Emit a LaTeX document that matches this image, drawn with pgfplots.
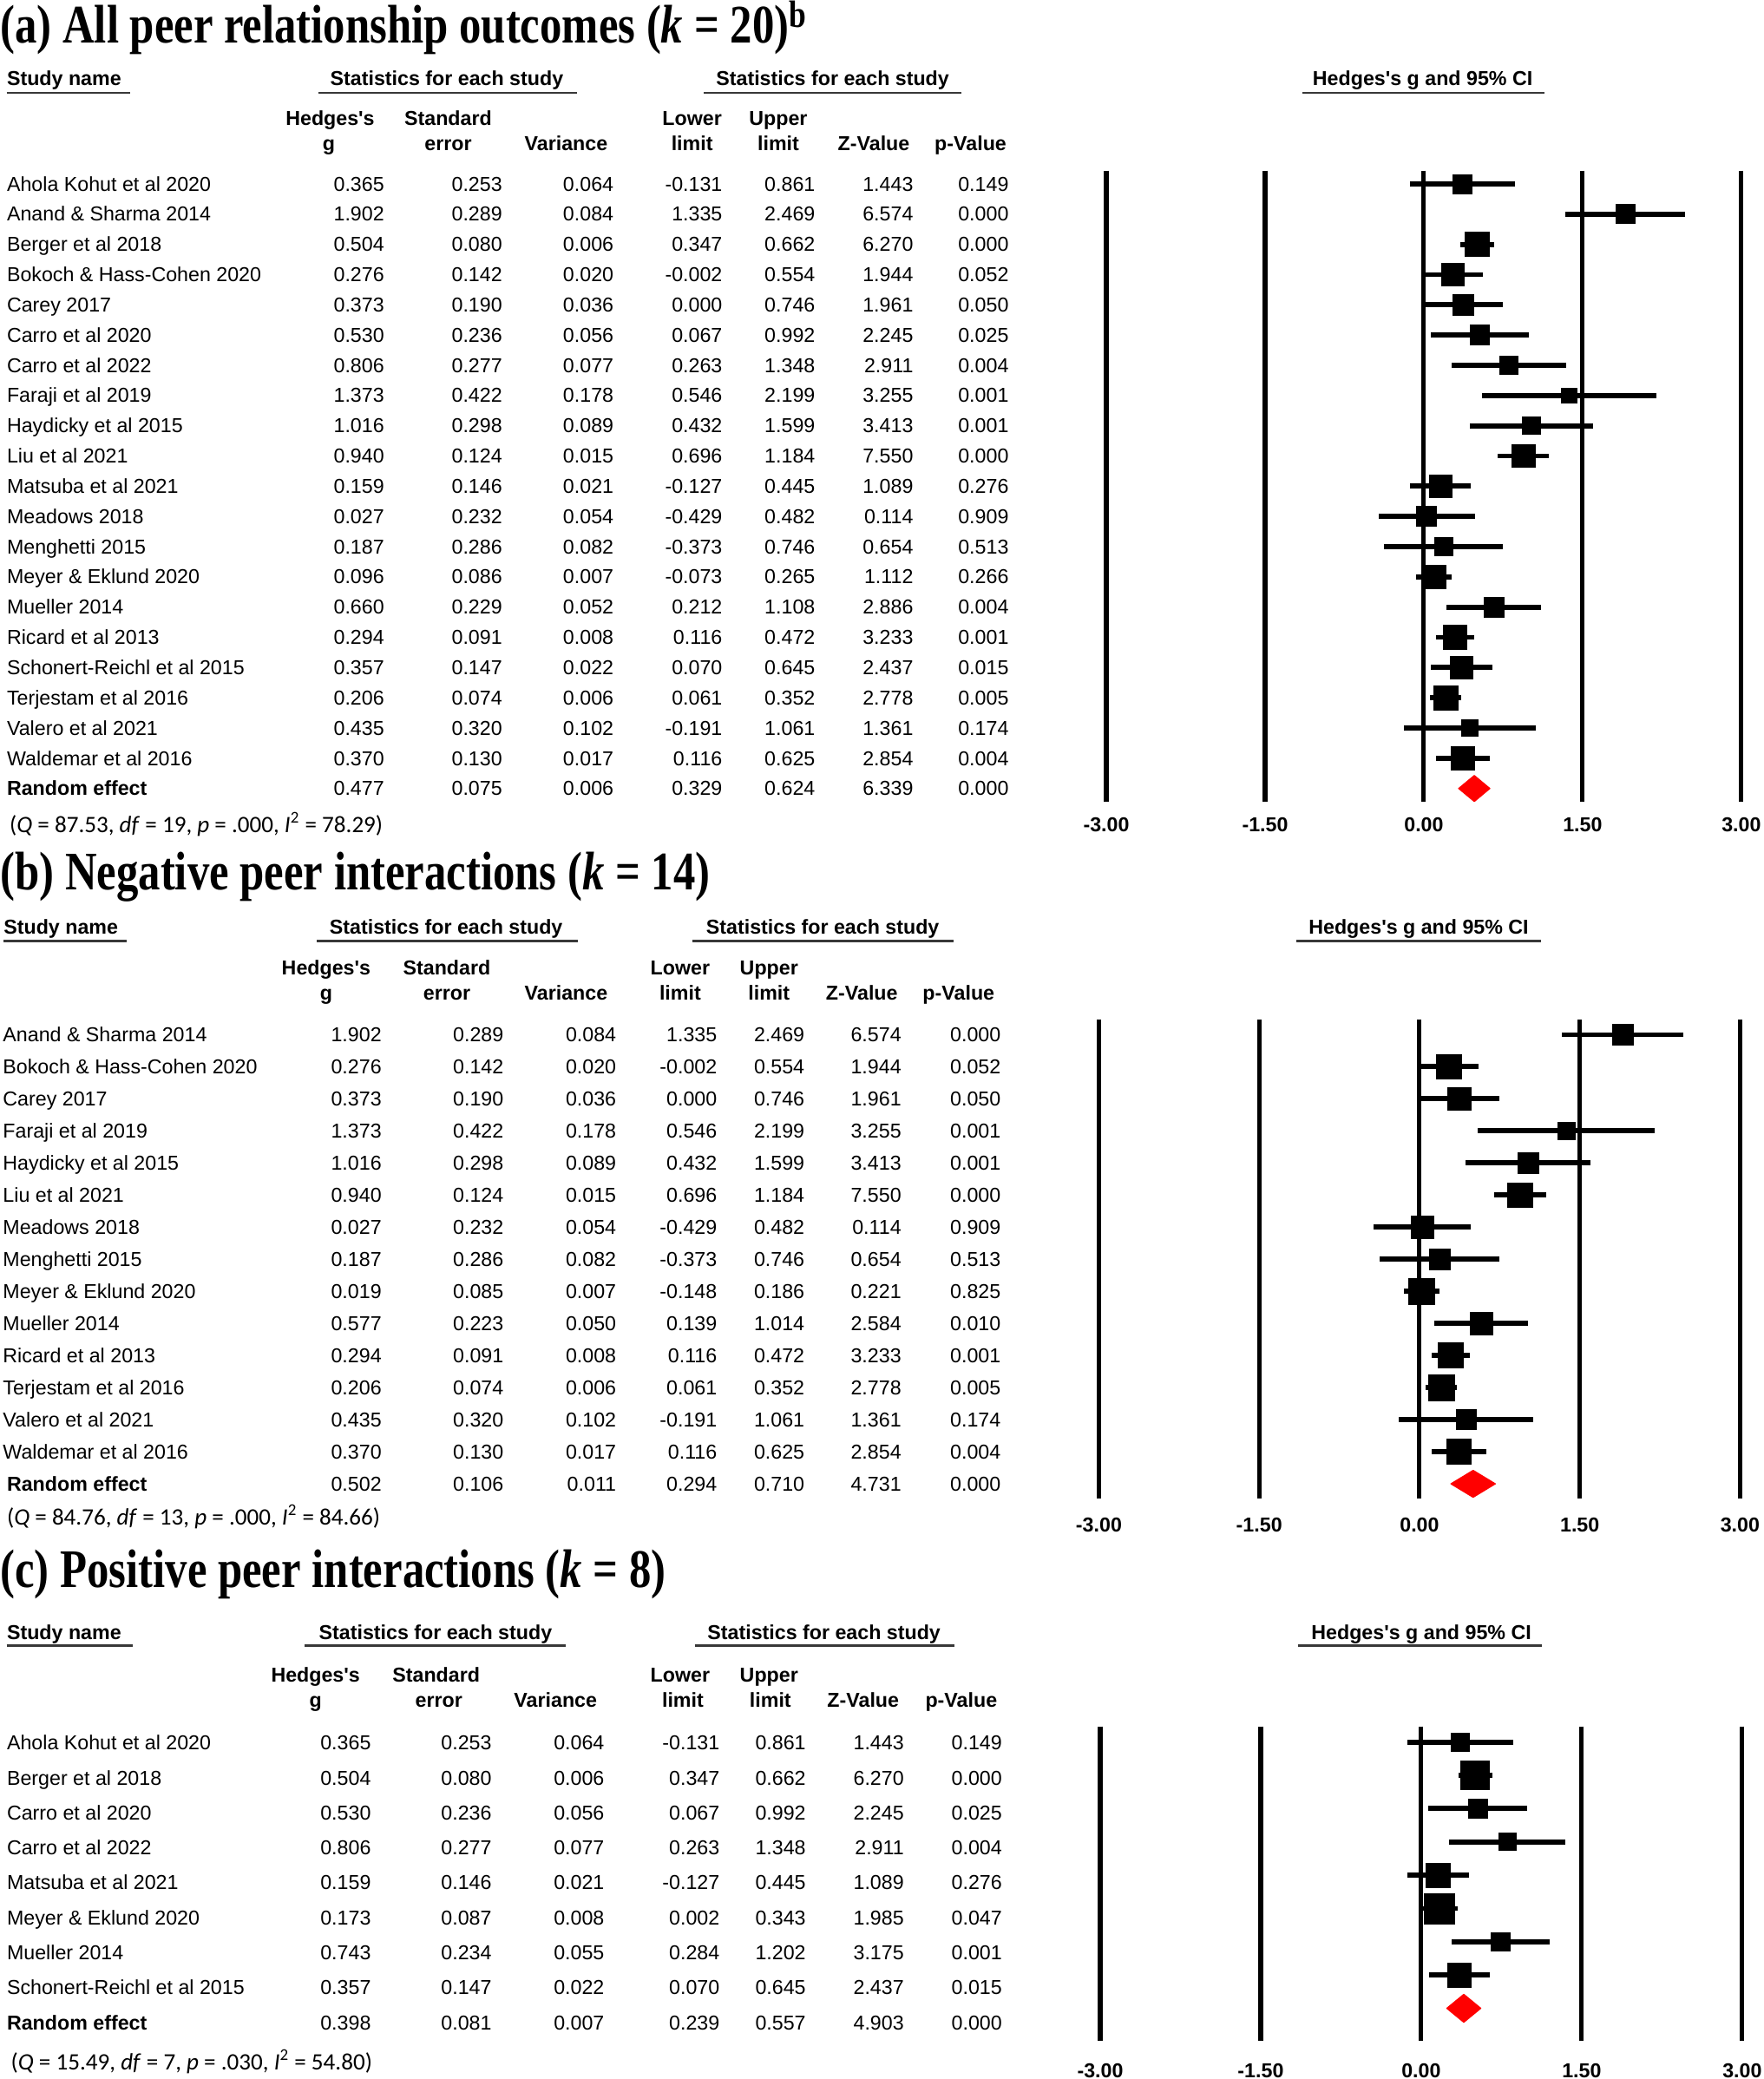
\documentclass[border=0pt]{standalone}
\usepackage{pgfplots}
\pgfplotsset{compat=1.18}
\usepackage{pgfplotstable}
\usepackage{fontspec}
\setmainfont{Liberation Sans}[Ligatures=TeXOff]
\newfontfamily\titlefont{Liberation Serif}
\newfontfamily\notefont{Carlito}
\newcommand{\tf}{\fontsize{11.4pt}{13pt}\selectfont}
\newcommand{\ttl}{\fontsize{30.75pt}{34pt}\selectfont\titlefont\bfseries}
\newcommand{\nf}{\fontsize{13.3pt}{15pt}\selectfont\notefont}
\newcommand{\panelhead}[1]{\scalebox{0.81}[1]{\ttl #1}}

% row, study, g, se, var, lower, upper, z, p, square side (px)
\pgfplotstableread{
row name g se var lo hi z p sz
0 {Ahola Kohut et al 2020} 0.365 0.253 0.064 -0.131 0.861 1.443 0.149 14.4
1 {Anand \& Sharma 2014} 1.902 0.289 0.084 1.335 2.469 6.574 0.000 14.4
2 {Berger et al 2018} 0.504 0.080 0.006 0.347 0.662 6.270 0.000 18.3
3 {Bokoch \& Hass-Cohen 2020} 0.276 0.142 0.020 -0.002 0.554 1.944 0.052 17.2
4 {Carey 2017} 0.373 0.190 0.036 0.000 0.746 1.961 0.050 15.8
5 {Carro et al 2020} 0.530 0.236 0.056 0.067 0.992 2.245 0.025 14.8
6 {Carro et al 2022} 0.806 0.277 0.077 0.263 1.348 2.911 0.004 13.8
7 {Faraji et al 2019} 1.373 0.422 0.178 0.546 2.199 3.255 0.001 11.2
8 {Haydicky et al 2015} 1.016 0.298 0.089 0.432 1.599 3.413 0.001 13.4
9 {Liu et al 2021} 0.940 0.124 0.015 0.696 1.184 7.550 0.000 17.5
10 {Matsuba et al 2021} 0.159 0.146 0.021 -0.127 0.445 1.089 0.276 17.0
11 {Meadows 2018} 0.027 0.232 0.054 -0.429 0.482 0.114 0.909 14.9
12 {Menghetti 2015} 0.187 0.286 0.082 -0.373 0.746 0.654 0.513 13.6
13 {Meyer \& Eklund 2020} 0.096 0.086 0.007 -0.073 0.265 1.112 0.266 18.2
14 {Mueller 2014} 0.660 0.229 0.052 0.212 1.108 2.886 0.004 15.0
15 {Ricard et al 2013} 0.294 0.091 0.008 0.116 0.472 3.233 0.001 18.1
16 {Schonert-Reichl et al 2015} 0.357 0.147 0.022 0.070 0.645 2.437 0.015 16.9
17 {Terjestam et al 2016} 0.206 0.074 0.006 0.061 0.352 2.778 0.005 18.3
18 {Valero et al 2021} 0.435 0.320 0.102 -0.191 1.061 1.361 0.174 12.9
19 {Waldemar et al 2016} 0.370 0.130 0.017 0.116 0.625 2.854 0.004 17.3
}\tblA

\pgfplotstableread{
row name g se var lo hi z p sz
0 {Anand \& Sharma 2014} 1.902 0.289 0.084 1.335 2.469 6.574 0.000 15.6
1 {Bokoch \& Hass-Cohen 2020} 0.276 0.142 0.020 -0.002 0.554 1.944 0.052 18.5
2 {Carey 2017} 0.373 0.190 0.036 0.000 0.746 1.961 0.050 17.6
3 {Faraji et al 2019} 1.373 0.422 0.178 0.546 2.199 3.255 0.001 13.1
4 {Haydicky et al 2015} 1.016 0.298 0.089 0.432 1.599 3.413 0.001 15.5
5 {Liu et al 2021} 0.940 0.124 0.015 0.696 1.184 7.550 0.000 18.8
6 {Meadows 2018} 0.027 0.232 0.054 -0.429 0.482 0.114 0.909 16.8
7 {Menghetti 2015} 0.187 0.286 0.082 -0.373 0.746 0.654 0.513 15.7
8 {Meyer \& Eklund 2020} 0.019 0.085 0.007 -0.148 0.186 0.221 0.825 19.3
9 {Mueller 2014} 0.577 0.223 0.050 0.139 1.014 2.584 0.010 17.0
10 {Ricard et al 2013} 0.294 0.091 0.008 0.116 0.472 3.233 0.001 19.2
11 {Terjestam et al 2016} 0.206 0.074 0.006 0.061 0.352 2.778 0.005 19.4
12 {Valero et al 2021} 0.435 0.320 0.102 -0.191 1.061 1.361 0.174 15.0
13 {Waldemar et al 2016} 0.370 0.130 0.017 0.116 0.625 2.854 0.004 18.7
}\tblB

\pgfplotstableread{
row name g se var lo hi z p sz
0 {Ahola Kohut et al 2020} 0.365 0.253 0.064 -0.131 0.861 1.443 0.149 14.0
1 {Berger et al 2018} 0.504 0.080 0.006 0.347 0.662 6.270 0.000 21.5
2 {Carro et al 2020} 0.530 0.236 0.056 0.067 0.992 2.245 0.025 14.2
3 {Carro et al 2022} 0.806 0.277 0.077 0.263 1.348 2.911 0.004 13.0
4 {Matsuba et al 2021} 0.159 0.146 0.021 -0.127 0.445 1.089 0.276 18.3
5 {Meyer \& Eklund 2020} 0.173 0.087 0.008 0.002 0.343 1.985 0.047 23.0
6 {Mueller 2014} 0.743 0.234 0.055 0.284 1.202 3.175 0.001 14.2
7 {Schonert-Reichl et al 2015} 0.357 0.147 0.022 0.070 0.645 2.437 0.015 18.0
}\tblC

\pgfplotsset{
  forest/.style={
    scale only axis, anchor=north west, clip=false,
    xmin=-3, xmax=3, y dir=reverse,
    axis line style={draw=none}, ytick=\empty,
    xtick={-3,-1.5,0,1.5,3}, xticklabels={-3.00,-1.50,0.00,1.50,3.00},
    major tick length=0pt,
    xmajorgrids, major grid style={black, line width=2.5pt},
    xticklabel style={font=\tf\bfseries, anchor=center},
  },
  ci/.style={only marks, mark=none,
    error bars/.cd, x dir=both, x explicit, error mark=none,
    error bar style={line width=2.9pt, black}},
  sq/.style={scatter, only marks, mark=square*,
    scatter/use mapped color={draw=none, fill=black},
    visualization depends on={0.375*\thisrow{sz} \as \ms},
    scatter/@pre marker code/.append style={/tikz/mark size=\ms pt}},
}

% study rows of a table: #1 table, #2 first row y, #3 row step, #4 name x, #5 column/right edge
\newcommand{\rows}[5]{%
  \pgfplotstablegetrowsof{#1}\pgfmathtruncatemacro{\nlast}{\pgfplotsretval-1}%
  \foreach \i in {0,...,\nlast}{%
    \pgfmathsetmacro{\yy}{#2+#3*\i+5.3}%
    \pgfplotstablegetelem{\i}{name}\of{#1}%
    \node[anchor=base west, inner sep=0pt] at (#4,\yy) {\pgfplotsretval};%
    \foreach \c/\xr in {#5}{%
      \pgfplotstablegetelem{\i}{\c}\of{#1}%
      \node[anchor=base east, inner sep=0pt] at (\xr,\yy) {\pgfplotsretval};%
    }%
  }}
\newcommand{\rerow}[3]{%
  \node[anchor=base west, inner sep=0pt, font=\tf\bfseries] at (#2,#1+5.3) {Random effect};
  \foreach \v/\xr in {#3}{\node[anchor=base east, inner sep=0pt] at (\xr,#1+5.3) {\v};}}
\newcommand{\hd}[3]{\node[anchor=base, inner sep=0pt, font=\tf\bfseries] at (#1,#2+5.3) {#3};}
\newcommand{\ul}[3]{\draw[line width=1.4pt, black!78] (#1,#3) -- (#2,#3);}

\begin{document}
\begin{tikzpicture}
\path[use as bounding box, fill=white] (0,0) rectangle (997.5pt,-1176pt);

% (a) forest plot
\begin{axis}[forest, at={(625.8pt,-96.5pt)}, width=359.2pt, height=357.2pt,
  ymin=-0.44, ymax=20.45, xticklabel style={yshift=-12.75pt}]
\addplot[ci] table[x=g, y=row, x error plus expr=\thisrow{hi}-\thisrow{g},
  x error minus expr=\thisrow{g}-\thisrow{lo}] {\tblA};
\addplot[sq] table[x=g, y=row] {\tblA};
\addplot[fill=red, draw=red, line width=0.6pt, line join=round]
  coordinates {(0.329,20) (0.477,19.57) (0.624,20) (0.477,20.43)} -- cycle;
\end{axis}

% (b) forest plot
\begin{axis}[forest, at={(621.6pt,-576.75pt)}, width=362.7pt, height=271.1pt,
  ymin=-0.47, ymax=14.47, xticklabel style={yshift=-14.6pt}]
\addplot[ci] table[x=g, y=row, x error plus expr=\thisrow{hi}-\thisrow{g},
  x error minus expr=\thisrow{g}-\thisrow{lo}] {\tblB};
\addplot[sq] table[x=g, y=row] {\tblB};
\addplot[fill=red, draw=red, line width=0.6pt, line join=round]
  coordinates {(0.294,14) (0.502,13.58) (0.710,14) (0.502,14.42)} -- cycle;
\end{axis}

% (c) forest plot
\begin{axis}[forest, at={(622.35pt,-976.5pt)}, width=363.15pt, height=177.75pt,
  ymin=-0.474, ymax=8.97, xticklabel style={yshift=-17.25pt}]
\addplot[ci] table[x=g, y=row, x error plus expr=\thisrow{hi}-\thisrow{g},
  x error minus expr=\thisrow{g}-\thisrow{lo}] {\tblC};
\addplot[sq] table[x=g, y=row] {\tblC};
\addplot[fill=red, draw=red, line width=0.6pt, line join=round]
  coordinates {(0.239,8) (0.398,7.58) (0.557,8) (0.398,8.42)} -- cycle;
\end{axis}

\begin{scope}[x=0.75pt, y=-0.75pt, font=\tf]
% ---- (a)
\node[anchor=base west, inner sep=0pt] at (0,32.5) {\panelhead{(a) All peer relationship outcomes ({\itshape k} = 20)\textsuperscript{b}}};
\node[anchor=base west, inner sep=0pt, font=\tf\bfseries] at (5,64.3) {Study name};
\ul{5}{98}{70}
\hd{337}{59}{Statistics for each study} \ul{240}{435}{70}
\hd{628}{59}{Statistics for each study} \ul{531}{725}{70}
\hd{1073}{59}{Hedges's g and 95\% CI} \ul{982}{1165}{70}
\hd{249}{89.4}{Hedges's} \hd{338}{89.4}{Standard} \hd{522}{89.4}{Lower} \hd{587}{89.4}{Upper}
\hd{248}{108.4}{g} \hd{338}{108.4}{error} \hd{427}{108.4}{Variance} \hd{522}{108.4}{limit}
\hd{587}{108.4}{limit} \hd{659}{108.4}{Z-Value} \hd{732}{108.4}{p-Value}
\rows{\tblA}{138.7}{22.8}{5}{g/290,se/379,var/463,lo/545,hi/615,z/689,p/761}
\rerow{594.7}{5}{0.477/290,0.075/379,0.006/463,0.329/545,0.624/615,6.339/689,0.000/761}
\node[anchor=base west, inner sep=0pt, font=\nf] at (7,628) {(\textit{Q} = 87.53, \textit{df} = 19, \textit{p} = .000, \textit{I}\textsuperscript{2} = 78.29)};

% ---- (b)
\node[anchor=base west, inner sep=0pt] at (0,671) {\panelhead{(b) Negative peer interactions ({\itshape k} = 14)}};
\node[anchor=base west, inner sep=0pt, font=\tf\bfseries] at (2.6,704.3) {Study name};
\ul{2.6}{95.5}{709.5}
\hd{336.5}{699}{Statistics for each study} \ul{239}{436}{709.5}
\hd{620.5}{699}{Statistics for each study} \ul{522}{719}{709.5}
\hd{1070}{699}{Hedges's g and 95\% CI} \ul{978}{1162}{709.5}
\hd{246}{730}{Hedges's} \hd{337}{730}{Standard} \hd{513}{730}{Lower} \hd{580}{730}{Upper}
\hd{246}{749}{g} \hd{337}{749}{error} \hd{427}{749}{Variance} \hd{513}{749}{limit}
\hd{580}{749}{limit} \hd{650}{749}{Z-Value} \hd{723}{749}{p-Value}
\rows{\tblB}{780.4}{24.2}{2}{g/288,se/380,var/465,lo/541,hi/607,z/680,p/755}
\rerow{1119.2}{5}{0.502/288,0.106/380,0.011/465,0.294/541,0.710/607,4.731/680,0.000/755}
\node[anchor=base west, inner sep=0pt, font=\nf] at (5,1150) {(\textit{Q} = 84.76, \textit{df} = 13, \textit{p} = .000, \textit{I}\textsuperscript{2} = 84.66)};

% ---- (c)
\node[anchor=base west, inner sep=0pt] at (0,1197) {\panelhead{(c) Positive peer interactions ({\itshape k} = 8)}};
\node[anchor=base west, inner sep=0pt, font=\tf\bfseries] at (5,1236.3) {Study name};
\ul{5}{100}{1241}
\hd{328.5}{1231}{Statistics for each study} \ul{230}{427}{1241}
\hd{621.5}{1231}{Statistics for each study} \ul{524}{720}{1241}
\hd{1072}{1231}{Hedges's g and 95\% CI} \ul{979}{1163}{1241}
\hd{238}{1263}{Hedges's} \hd{329}{1263}{Standard} \hd{513}{1263}{Lower} \hd{580}{1263}{Upper}
\hd{238}{1282}{g} \hd{331}{1282}{error} \hd{419}{1282}{Variance} \hd{515}{1282}{limit}
\hd{581}{1282}{limit} \hd{651}{1282}{Z-Value} \hd{725}{1282}{p-Value}
\rows{\tblC}{1314.5}{26.36}{5}{g/280,se/371,var/456,lo/543,hi/608,z/682,p/756}
\rerow{1525.4}{5}{0.398/280,0.081/371,0.007/456,0.239/543,0.557/608,4.903/682,0.000/756}
\node[anchor=base west, inner sep=0pt, font=\nf] at (8,1561) {(\textit{Q} = 15.49, \textit{df} = 7, \textit{p} = .030, \textit{I}\textsuperscript{2} = 54.80)};
\end{scope}
\end{tikzpicture}
\end{document}
